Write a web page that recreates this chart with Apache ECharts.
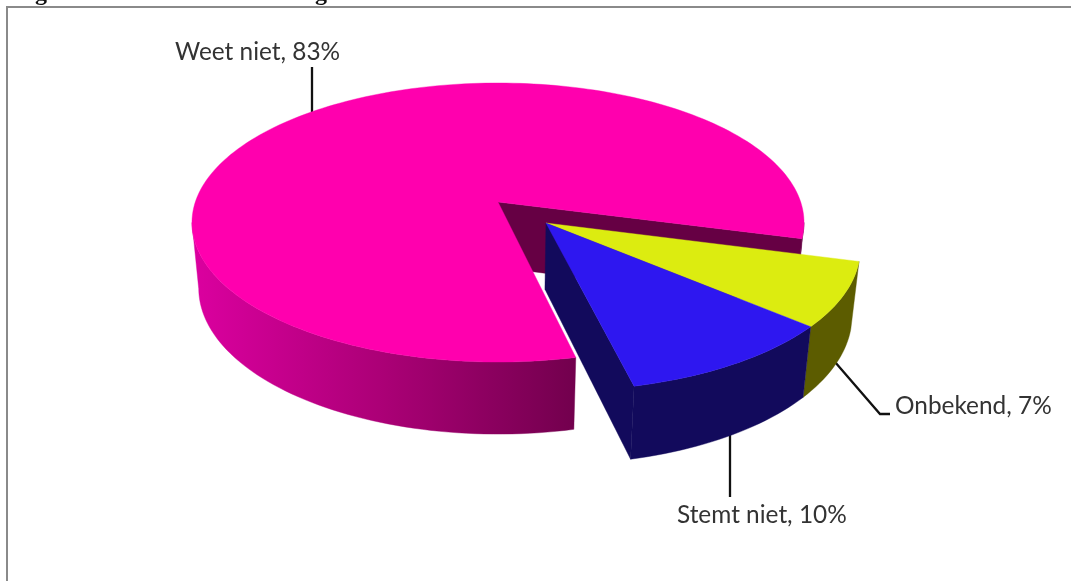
<!DOCTYPE html>
<html>
<head>
<meta charset="utf-8">
<style>html,body{margin:0;padding:0;background:#fff}#c{width:1071px;height:581px}</style>
<script src="https://cdn.jsdelivr.net/npm/echarts@6/dist/echarts.min.js"></script>
</head>
<body>
<div id="c"></div>
<script>
// ---- data ----
const categories = ['Weet niet', 'Onbekend', 'Stemt niet'];
const percentages = [82.7, 7.2, 10.1];
const sliceOrder = [0, 1, 2];
const topColors = ['#ff00ae', '#dcec10', '#2e17f0'];
const sideColors = ['#660044', '#5c5c00', '#120a5c'];
const explodedFlags = [0, 1, 1];

// ---- projection of the tilted, extruded disc ----
const CX = 498, CY = 202, RX = 302.7, RY = 136.5, K = 0.147, DEPTH = 66.6, SHRINK = 0.022;
const EXPLODE_X = 0.155, EXPLODE_Y = 0.1505;
const FIRST_ANGLE = 375; // degrees, clockwise from 3 o'clock: where 'Weet niet' ends
const SILHOUETTE = Math.asin(K) * 180 / Math.PI;

function project(deg, r, bottom, exploded) {
  const a = deg * Math.PI / 180;
  const X = r * Math.cos(a) + (exploded ? EXPLODE_X : 0);
  const Y = r * Math.sin(a) + (exploded ? EXPLODE_Y : 0);
  const w = 1 - K * Y + (bottom ? SHRINK : 0);
  return [CX + RX * X / w, CY + RY * Y / w + (bottom ? DEPTH / w : 0)];
}
function rim(a0, a1, bottom, exploded) {
  const n = Math.max(2, Math.ceil(Math.abs(a1 - a0) / 1.5));
  const out = [];
  for (let i = 0; i <= n; i++) out.push(project(a0 + (a1 - a0) * i / n, 1, bottom, exploded));
  return out;
}
function poly(points, fill, z2) {
  return { type: 'polygon', z2: z2, shape: { points: points }, style: { fill: fill, stroke: fill, lineWidth: 0.4 } };
}
function wall(a0, a1, exploded, fill, z2) {
  return poly(rim(a0, a1, false, exploded).concat(rim(a0, a1, true, exploded).reverse()), fill, z2);
}
function cut(deg, exploded, fill, z2) {
  return poly([
    project(0, 0, false, exploded), project(deg, 1, false, exploded),
    project(deg, 1, true, exploded), project(0, 0, true, exploded)
  ], fill, z2);
}

// Start/end angle of a slice, read from the percentages
function sliceSpan(idx) {
  const total = percentages.reduce((s, v) => s + v, 0);
  const start = FIRST_ANGLE - percentages[0] / total * 360;  // Weet niet starts here
  if (idx === 0) return [start, FIRST_ANGLE];
  let a = FIRST_ANGLE - 360;
  for (let i = 1; i < idx; i++) a += percentages[i] / total * 360;
  return [a, a + percentages[idx] / total * 360];
}

const pinkSide = {
  type: 'linear', x: 190, y: 0, x2: 576, y2: 0, global: true,
  colorStops: [{ offset: 0, color: '#dc00a0' }, { offset: 0.5, color: '#ab0076' }, { offset: 1, color: '#72004d' }]
};

const labelLayout = [
  { text: [175, 52, 'left'], line: [[312, 67], [312, 114]] },
  { text: [895, 406, 'left'], line: [[835, 362], [880, 414], [890, 414]] },
  { text: [677, 515, 'left'], line: [[730, 432], [730, 497]] }
];

function renderItem(params, api) {
  const i = api.value(0);
  const [a0, a1] = sliceSpan(i);
  const ex = explodedFlags[i] === 1;
  const children = [];
  if (i === 0) {
    children.push(wall(a0, 180 - SILHOUETTE, false, pinkSide, 1));
    children.push(wall(360 + SILHOUETTE, a1, false, sideColors[0], 1));
    children.push(cut(a1, false, sideColors[0], 2));
  } else {
    children.push(wall(a0, a1, true, sideColors[i], 1));
    if (i === 2) children.push(cut(a1, true, sideColors[i], 2));
  }
  children.push(poly([project(0, 0, false, ex)].concat(rim(a0, a1, false, ex)), topColors[i], 3));
  const lay = labelLayout[i];
  children.push({
    type: 'polyline', z2: 0,
    shape: { points: lay.line },
    style: { stroke: '#111', lineWidth: 2.3, fill: null }
  });
  children.push({
    type: 'text', z2: 4,
    style: {
      x: lay.text[0], y: lay.text[1], align: lay.text[2], verticalAlign: 'middle',
      text: categories[i] + ', ' + Math.round(api.value(1)) + '%',
      fill: '#333', font: '24.4px Lato, Carlito, "Open Sans", sans-serif'
    }
  });
  return { type: 'group', children: children };
}

const titleFragmentStyle = { text: 'g', fill: '#111', font: 'bold 24px "Liberation Serif", serif', verticalAlign: 'bottom', align: 'center' };

const chart = echarts.init(document.getElementById('c'), null, { renderer: 'canvas' });
chart.setOption({
  animation: false,
  backgroundColor: '#fff',
  graphic: [
    { type: 'polyline', shape: { points: [[7, 581], [7, 7], [1071, 7]] }, style: { stroke: '#8a8a8a', lineWidth: 2, fill: null }, z: 1 },
    { type: 'text', style: Object.assign({ x: 41, y: 6 }, titleFragmentStyle), z: 0 },
    { type: 'text', style: Object.assign({ x: 321, y: 6 }, titleFragmentStyle), z: 0 }
  ],
  series: [{
    type: 'custom',
    coordinateSystem: 'none',
    renderItem: renderItem,
    data: sliceOrder.map(i => [i, percentages[i]])
  }]
});
</script>
</body>
</html>
